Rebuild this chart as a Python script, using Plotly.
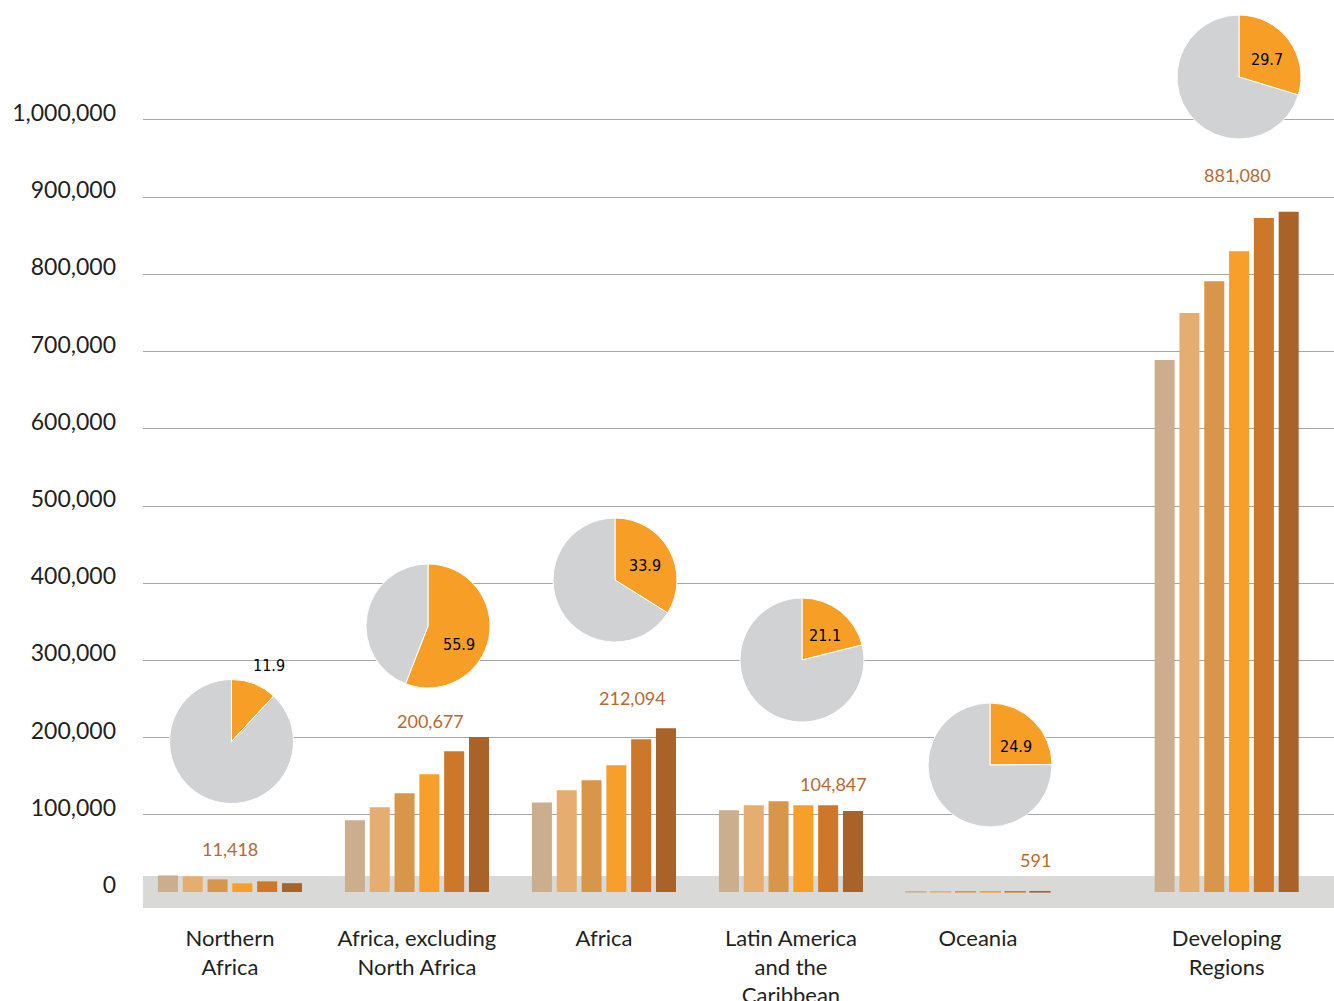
import plotly.graph_objects as go

# Regions and their position along the x axis (Developing Regions set apart)
regions = ["Northern<br>Africa", "Africa, excluding<br>North Africa", "Africa",
           "Latin America<br>and the<br>Caribbean", "Oceania", "Developing<br>Regions"]
region_pos = [0, 1, 2, 3, 4, 5.33]

# Six successive periods per region
periods = ["Period 1", "Period 2", "Period 3", "Period 4", "Period 5", "Period 6"]
period_1 = [21500, 92900, 116000, 105800, 480, 689000]
period_2 = [20300, 109700, 131700, 112300, 500, 750000]
period_3 = [16400, 127800, 144700, 117500, 520, 791000]
period_4 = [11200, 152500, 164100, 112300, 545, 830000]
period_5 = [13800, 182300, 197800, 112300, 570, 873000]
period_6 = [11418, 200677, 212094, 104847, 591, 881080]
series = [period_1, period_2, period_3, period_4, period_5, period_6]

# Share shown in each region's pie
pie_share = [11.9, 55.9, 33.9, 21.1, 24.9, 29.7]

y_ticks = [0, 100000, 200000, 300000, 400000, 500000, 600000, 700000, 800000, 900000, 1000000]

bar_colors = ["#CBAE8D", "#E5AE70", "#D8964A", "#F89E2A", "#CD772B", "#A96228"]
label_color = "#B56A32"
text_color = "#231F20"
pie_orange = "#F79E27"
pie_gray = "#D1D2D4"

W, H = 1334, 1001
M_L, M_R, M_T, M_B = 143, 0, 0, 93
plot_w = W - M_L - M_R
plot_h = H - M_T - M_B

x_range = [-0.465, 5.904]
y_range = [-20700, 1155400]

fig = go.Figure()

for i, (name, vals) in enumerate(zip(periods, series)):
    # thin outline keeps the very small Oceania bars visible
    line_w = [1.2 if r == "Oceania" else 0 for r in regions]
    fig.add_trace(go.Bar(
        x=region_pos, y=vals, name=name,
        marker=dict(color=bar_colors[i], line=dict(color=bar_colors[i], width=line_w)),
        showlegend=False, hoverinfo="y",
    ))

# Value of the last period above each group
label_dx = [0.0, 0.07, 0.15, 0.23, 0.31, 0.06]
label_y = [55700, 221500, 251300, 139900, 41500, 928800]
for pos, dx, ly, v in zip(region_pos, label_dx, label_y, period_6):
    fig.add_annotation(x=pos + dx, y=ly, xref="x", yref="y", text=f"{v:,}",
                       showarrow=False, font=dict(family="Lato", size=18, color=label_color))

# Pie placement in page pixels (centre x, centre y), radius, and label offset from centre
pie_centers = [(231.5, 741.5), (428, 626), (615, 580), (802, 660), (990, 765), (1239, 77)]
pie_label_offset = [(37, -76), (31, 18), (30, -15), (23, -25), (26, -19), (28, -18)]
pie_r = 62


def to_paper_x(px):
    return (px - M_L) / plot_w


def to_paper_y(py):
    return (M_T + plot_h - py) / plot_h


pie_font = "Liberation Sans Narrow, DejaVu Sans Condensed, Roboto, sans-serif"
for (cx, cy), (ox, oy), share in zip(pie_centers, pie_label_offset, pie_share):
    fig.add_trace(go.Pie(
        values=[share, 100 - share],
        textinfo="none",
        marker=dict(colors=[pie_orange, pie_gray], line=dict(color="white", width=1)),
        sort=False, direction="clockwise", rotation=0,
        domain=dict(x=[to_paper_x(cx - pie_r), to_paper_x(cx + pie_r)],
                    y=[to_paper_y(cy + pie_r), to_paper_y(cy - pie_r)]),
        showlegend=False, hoverinfo="value",
    ))
    fig.add_annotation(x=to_paper_x(cx + ox), y=to_paper_y(cy + oy), xref="paper", yref="paper",
                       xanchor="center", yanchor="middle", text=f"{share}", showarrow=False,
                       font=dict(family=pie_font, size=16, color="black"))

# Grey band along the base of the bars
fig.add_shape(type="rect", xref="x", yref="y", x0=x_range[0], x1=x_range[1],
              y0=y_range[0], y1=20700, fillcolor="#D9D9D8", line=dict(width=0), layer="between")

fig.update_layout(
    width=W, height=H,
    margin=dict(l=M_L, r=M_R, t=M_T, b=M_B, autoexpand=False),
    paper_bgcolor="white", plot_bgcolor="white",
    barmode="group", bargap=0.204, bargroupgap=0.193,
    font=dict(family="Lato", color=text_color),
    xaxis=dict(range=x_range, tickvals=region_pos, ticktext=regions, showgrid=False,
               zeroline=False, showline=False, ticks="", tickfont=dict(size=22, color=text_color),
               ticklabelstandoff=15, automargin=False, fixedrange=True),
    yaxis=dict(range=y_range, tickvals=y_ticks, tickformat=",", showgrid=True,
               gridcolor="#A6A6A6", gridwidth=1, zeroline=False, showline=False, ticks="",
               tickfont=dict(size=23, color=text_color), ticklabelstandoff=26,
               ticklabelshift=-7, automargin=False, fixedrange=True),
)

fig.write_html("out.html")
